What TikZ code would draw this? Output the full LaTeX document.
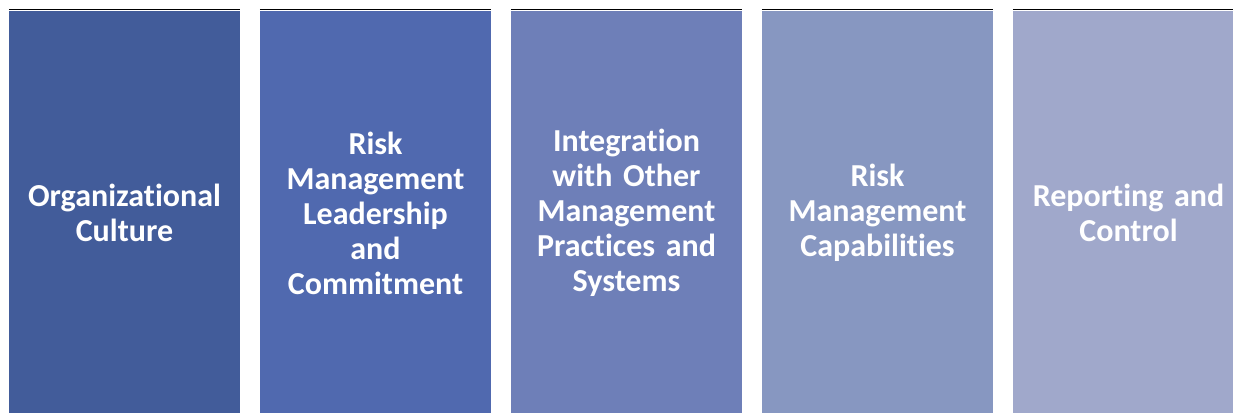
\documentclass[tikz,border=0pt]{standalone}
\usepackage{fontspec}
\setmainfont[Ligatures={NoCommon}, WordSpace={0.75}]{Carlito}
\definecolor{colA}{HTML}{425C9A}
\definecolor{colB}{HTML}{5069AF}
\definecolor{colC}{HTML}{6E7FB8}
\definecolor{colD}{HTML}{8797C1}
\definecolor{colE}{HTML}{A0A8CB}
\definecolor{shade}{HTML}{E2E4EA}
\begin{document}
\begin{tikzpicture}[x=1pt, y=1pt, node distance={251pt},
    pillar/.style = {minimum width=231pt, minimum height=404pt, inner sep=0pt,
        text=white, align=center, text width=225pt,
        font=\fontsize{32}{35}\selectfont\bfseries},
    topline/.style = {shade, line width=1.2pt}]
    \useasboundingbox (0,0) rectangle (1233,412);
    \clip (0,0) rectangle (1233,412);
    \node[pillar, fill=colA] (1) at (124.5,199) {Organizational\\Culture};
    \node[pillar, fill=colB] (2) [right of=1] {Risk\\Management\\Leadership\\and\\Commitment};
    \node[pillar, fill=colC] (3) [right of=2] {Integration\\with Other\\Management\\Practices and\\Systems};
    \node[pillar, fill=colD] (4) [right of=3] {Risk\\Management\\Capabilities};
    \node[pillar, fill=colE] (5) [right of=4] {Reporting and\\Control};
    \draw[topline] ([yshift=1.5pt]1.north west) -- ([yshift=1.5pt]1.north east);
    \draw[topline] ([yshift=1.5pt]2.north west) -- ([yshift=1.5pt]2.north east);
    \draw[topline] ([yshift=1.5pt]3.north west) -- ([yshift=1.5pt]3.north east);
    \draw[topline] ([yshift=1.5pt]4.north west) -- ([yshift=1.5pt]4.north east);
    \draw[topline] ([yshift=1.5pt]5.north west) -- ([yshift=1.5pt]5.north east);
\end{tikzpicture}
\end{document}
